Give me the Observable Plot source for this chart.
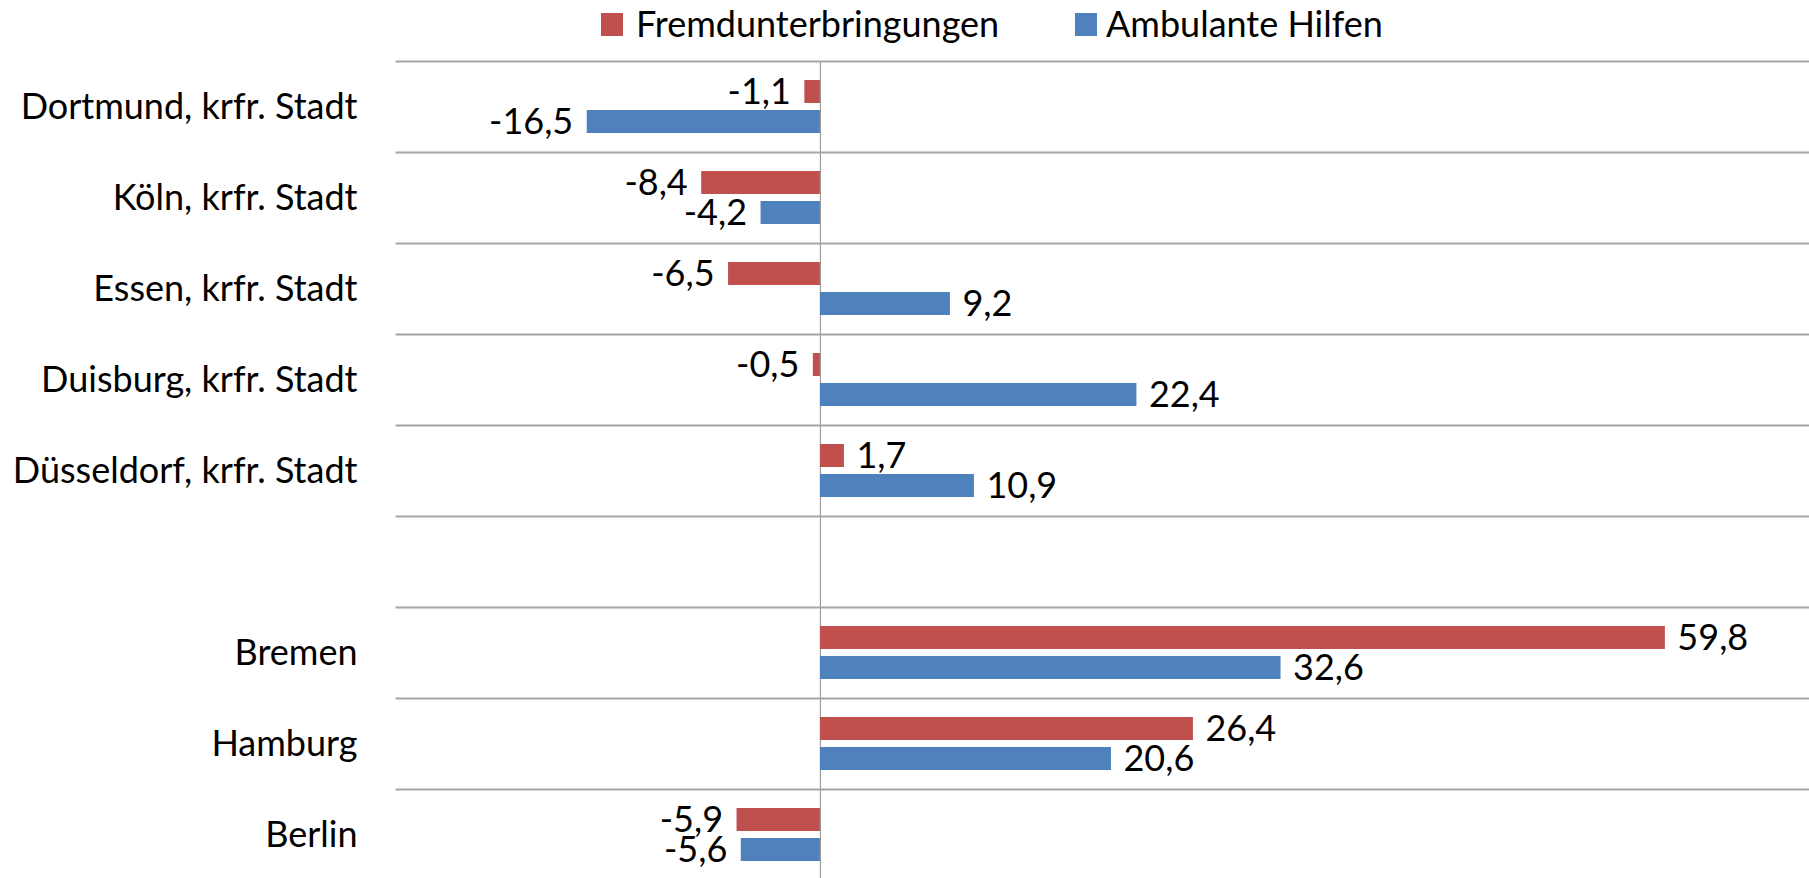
<!DOCTYPE html>
<html>
<head>
<meta charset="utf-8">
<script src="https://cdn.jsdelivr.net/npm/d3@7"></script>
<script src="https://cdn.jsdelivr.net/npm/@observablehq/plot@0.6"></script>
<style>
  html, body { margin: 0; padding: 0; background: #fff; overflow: hidden; }
  #legend { position: relative; height: 48px; font-family: Lato, sans-serif; font-size: 36px; color: #000; }
  #legend .sw { position: absolute; top: 13px; width: 22px; height: 23px; }
  #legend .lb { position: absolute; top: -1px; line-height: 48px; white-space: nowrap; }
</style>
</head>
<body>
<div id="legend"></div>
<div id="chart"></div>
<script>
const categories = [
  "Dortmund, krfr. Stadt",
  "Köln, krfr. Stadt",
  "Essen, krfr. Stadt",
  "Duisburg, krfr. Stadt",
  "Düsseldorf, krfr. Stadt",
  " ",
  "Bremen",
  "Hamburg",
  "Berlin"
];
const series = ["Fremdunterbringungen", "Ambulante Hilfen"];
const fremdunterbringungen = [-1.1, -8.4, -6.5, -0.5, 1.7, null, 59.8, 26.4, -5.9];
const ambulanteHilfen = [-16.5, -4.2, 9.2, 22.4, 10.9, null, 32.6, 20.6, -5.6];
const colors = ["#C0504D", "#4F81BD"];

const data = [];
categories.forEach((c, i) => {
  if (fremdunterbringungen[i] != null) data.push({cat: c, series: series[0], value: fremdunterbringungen[i]});
  if (ambulanteHilfen[i] != null) data.push({cat: c, series: series[1], value: ambulanteHilfen[i]});
});
const fmt = d => d.value.toFixed(1).replace(".", ",");

// Legend
const legend = document.getElementById("legend");
const legendPos = [[601, 636], [1075, 1106]];
series.forEach((s, i) => {
  const sw = document.createElement("div");
  sw.className = "sw";
  sw.style.left = legendPos[i][0] + "px";
  sw.style.background = colors[i];
  legend.appendChild(sw);
  const lb = document.createElement("div");
  lb.className = "lb";
  lb.style.left = legendPos[i][1] + "px";
  lb.textContent = s;
  legend.appendChild(lb);
});

const chart = Plot.plot({
  width: 1809,
  height: 832,
  marginTop: 13,
  marginLeft: 396,
  marginRight: 0,
  marginBottom: 0,
  style: {fontFamily: "Lato, sans-serif", background: "#fff", color: "#000"},
  x: {domain: [-30, 70], axis: null},
  y: {domain: series, paddingInner: 0.233, paddingOuter: 0.633, axis: null},
  fy: {domain: categories, padding: 0, label: null},
  color: {domain: series, range: colors},
  marks: [
    Plot.ruleX(categories, {fy: d => d, x: () => 0, stroke: "#8c8c8c", strokeWidth: 1}),
    Plot.frame({anchor: "top", stroke: "#a6a6a6", strokeWidth: 2}),
    Plot.barX(data, {fy: "cat", y: "series", x: "value", fill: "series"}),
    Plot.text(data.filter(d => d.value >= 0), {fy: "cat", y: "series", x: "value", text: fmt, textAnchor: "start", dx: 12, fill: "#000", fontSize: 36}),
    Plot.text(data.filter(d => d.value < 0), {fy: "cat", y: "series", x: "value", text: fmt, textAnchor: "end", dx: -14, fill: "#000", fontSize: 36}),
    Plot.axisFy({anchor: "left", tickSize: 0, tickPadding: 39, label: null, fontSize: 36, fill: "#000"})
  ]
});
document.getElementById("chart").appendChild(chart);
</script>
</body>
</html>
